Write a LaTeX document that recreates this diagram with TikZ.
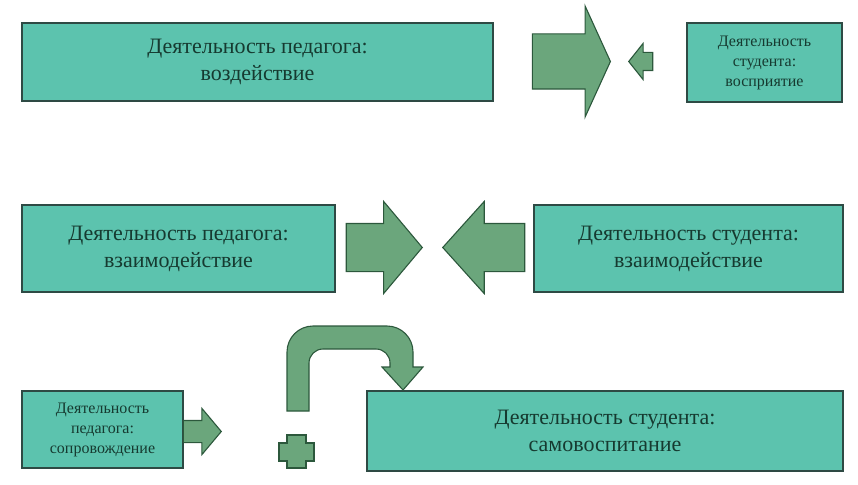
\documentclass[tikz,border=0pt]{standalone}
\usepackage{fontspec}
\setmainfont{Liberation Serif}
\usepackage{xcolor}
\usetikzlibrary{shapes, arrows, positioning}
\definecolor{boxteal}{RGB}{92,195,174}
\definecolor{boxedge}{RGB}{46,74,68}
\definecolor{arrowgreen}{RGB}{107,166,124}
\definecolor{arrowedge}{RGB}{44,88,60}
\definecolor{textdark}{RGB}{22,58,48}

\begin{document}
\begin{tikzpicture}[x=1pt, y=-1pt,
  box/.style={rectangle, draw=boxedge, fill=boxteal, line width=1.2pt, inner sep=0pt, align=center, text=textdark},
  bigtext/.style={font=\fontsize{22}{27}\selectfont},
  smalltext/.style={font=\fontsize{16}{20}\selectfont},
  blockarrow/.style={single arrow, draw=arrowedge, fill=arrowgreen, line width=1.1pt, inner xsep=0pt, single arrow head indent=0pt, anchor=tip},
  uturn/.style={draw=arrowedge, fill=arrowgreen, line width=1.1pt}
]
\useasboundingbox (0,0) rectangle (858,484);

% Row 1: influence
\node[box, bigtext, minimum width=471pt, minimum height=78pt] (pedvozd) at (257.5,62) {Деятельность педагога:\\воздействие};
\node[box, smalltext, minimum width=155pt, minimum height=79pt] (studvospr) at (764.5,62.5) {Деятельность\\студента:\\восприятие};
\node[blockarrow, inner ysep=27pt, minimum height=78pt, minimum width=110pt, single arrow head extend=28pt, single arrow tip angle=131] (arrvozd) at (611,61.5) {};
\node[blockarrow, inner ysep=8.5pt, minimum height=24pt, minimum width=35pt, single arrow head extend=9pt, single arrow tip angle=103, shape border rotate=180] (arrvospr) at (628,61.5) {};

% Row 2: interaction
\node[box, bigtext, minimum width=313pt, minimum height=87pt] (pedvzaim) at (178.5,248.5) {Деятельность педагога:\\взаимодействие};
\node[box, bigtext, minimum width=309pt, minimum height=87pt] (studvzaim) at (688.5,248.5) {Деятельность студента:\\взаимодействие};
\node[blockarrow, inner ysep=23.5pt, minimum height=76pt, minimum width=91pt, single arrow head extend=22pt, single arrow tip angle=100] (arrpedvz) at (423,247.5) {};
\node[blockarrow, inner ysep=23.5pt, minimum height=82pt, minimum width=91pt, single arrow head extend=22pt, single arrow tip angle=96, shape border rotate=180] (arrstudvz) at (442,247.5) {};

% Row 3: support and self-education
\node[box, smalltext, minimum width=161pt, minimum height=77pt] (pedsopr) at (102.5,429.5) {Деятельность\\педагога:\\сопровождение};
\node[box, bigtext, minimum width=476pt, minimum height=80pt] (studsamo) at (605,431) {Деятельность студента:\\самовоспитание};
\node[blockarrow, inner ysep=10.5pt, minimum height=38pt, minimum width=45pt, single arrow head extend=12pt, single arrow tip angle=100] (arrsopr) at (222,431.5) {};

% plus sign
\draw[uturn] (287,435) -- (306,435) -- (306,443) -- (314,443) -- (314,461) -- (306,461)
  -- (306,468) -- (287,468) -- (287,461) -- (279,461) -- (279,443) -- (287,443) -- cycle;

% bent arrow onto the box
\draw[uturn] (287,411) [rounded corners=26pt] -- (287,326) -- (413,326) [sharp corners] -- (413,367)
  -- (423,367) -- (403,390) -- (382,367) -- (390,367) [rounded corners=14pt] -- (390,349)
  -- (309,349) [sharp corners] -- (309,411) -- cycle;

\end{tikzpicture}
\end{document}
